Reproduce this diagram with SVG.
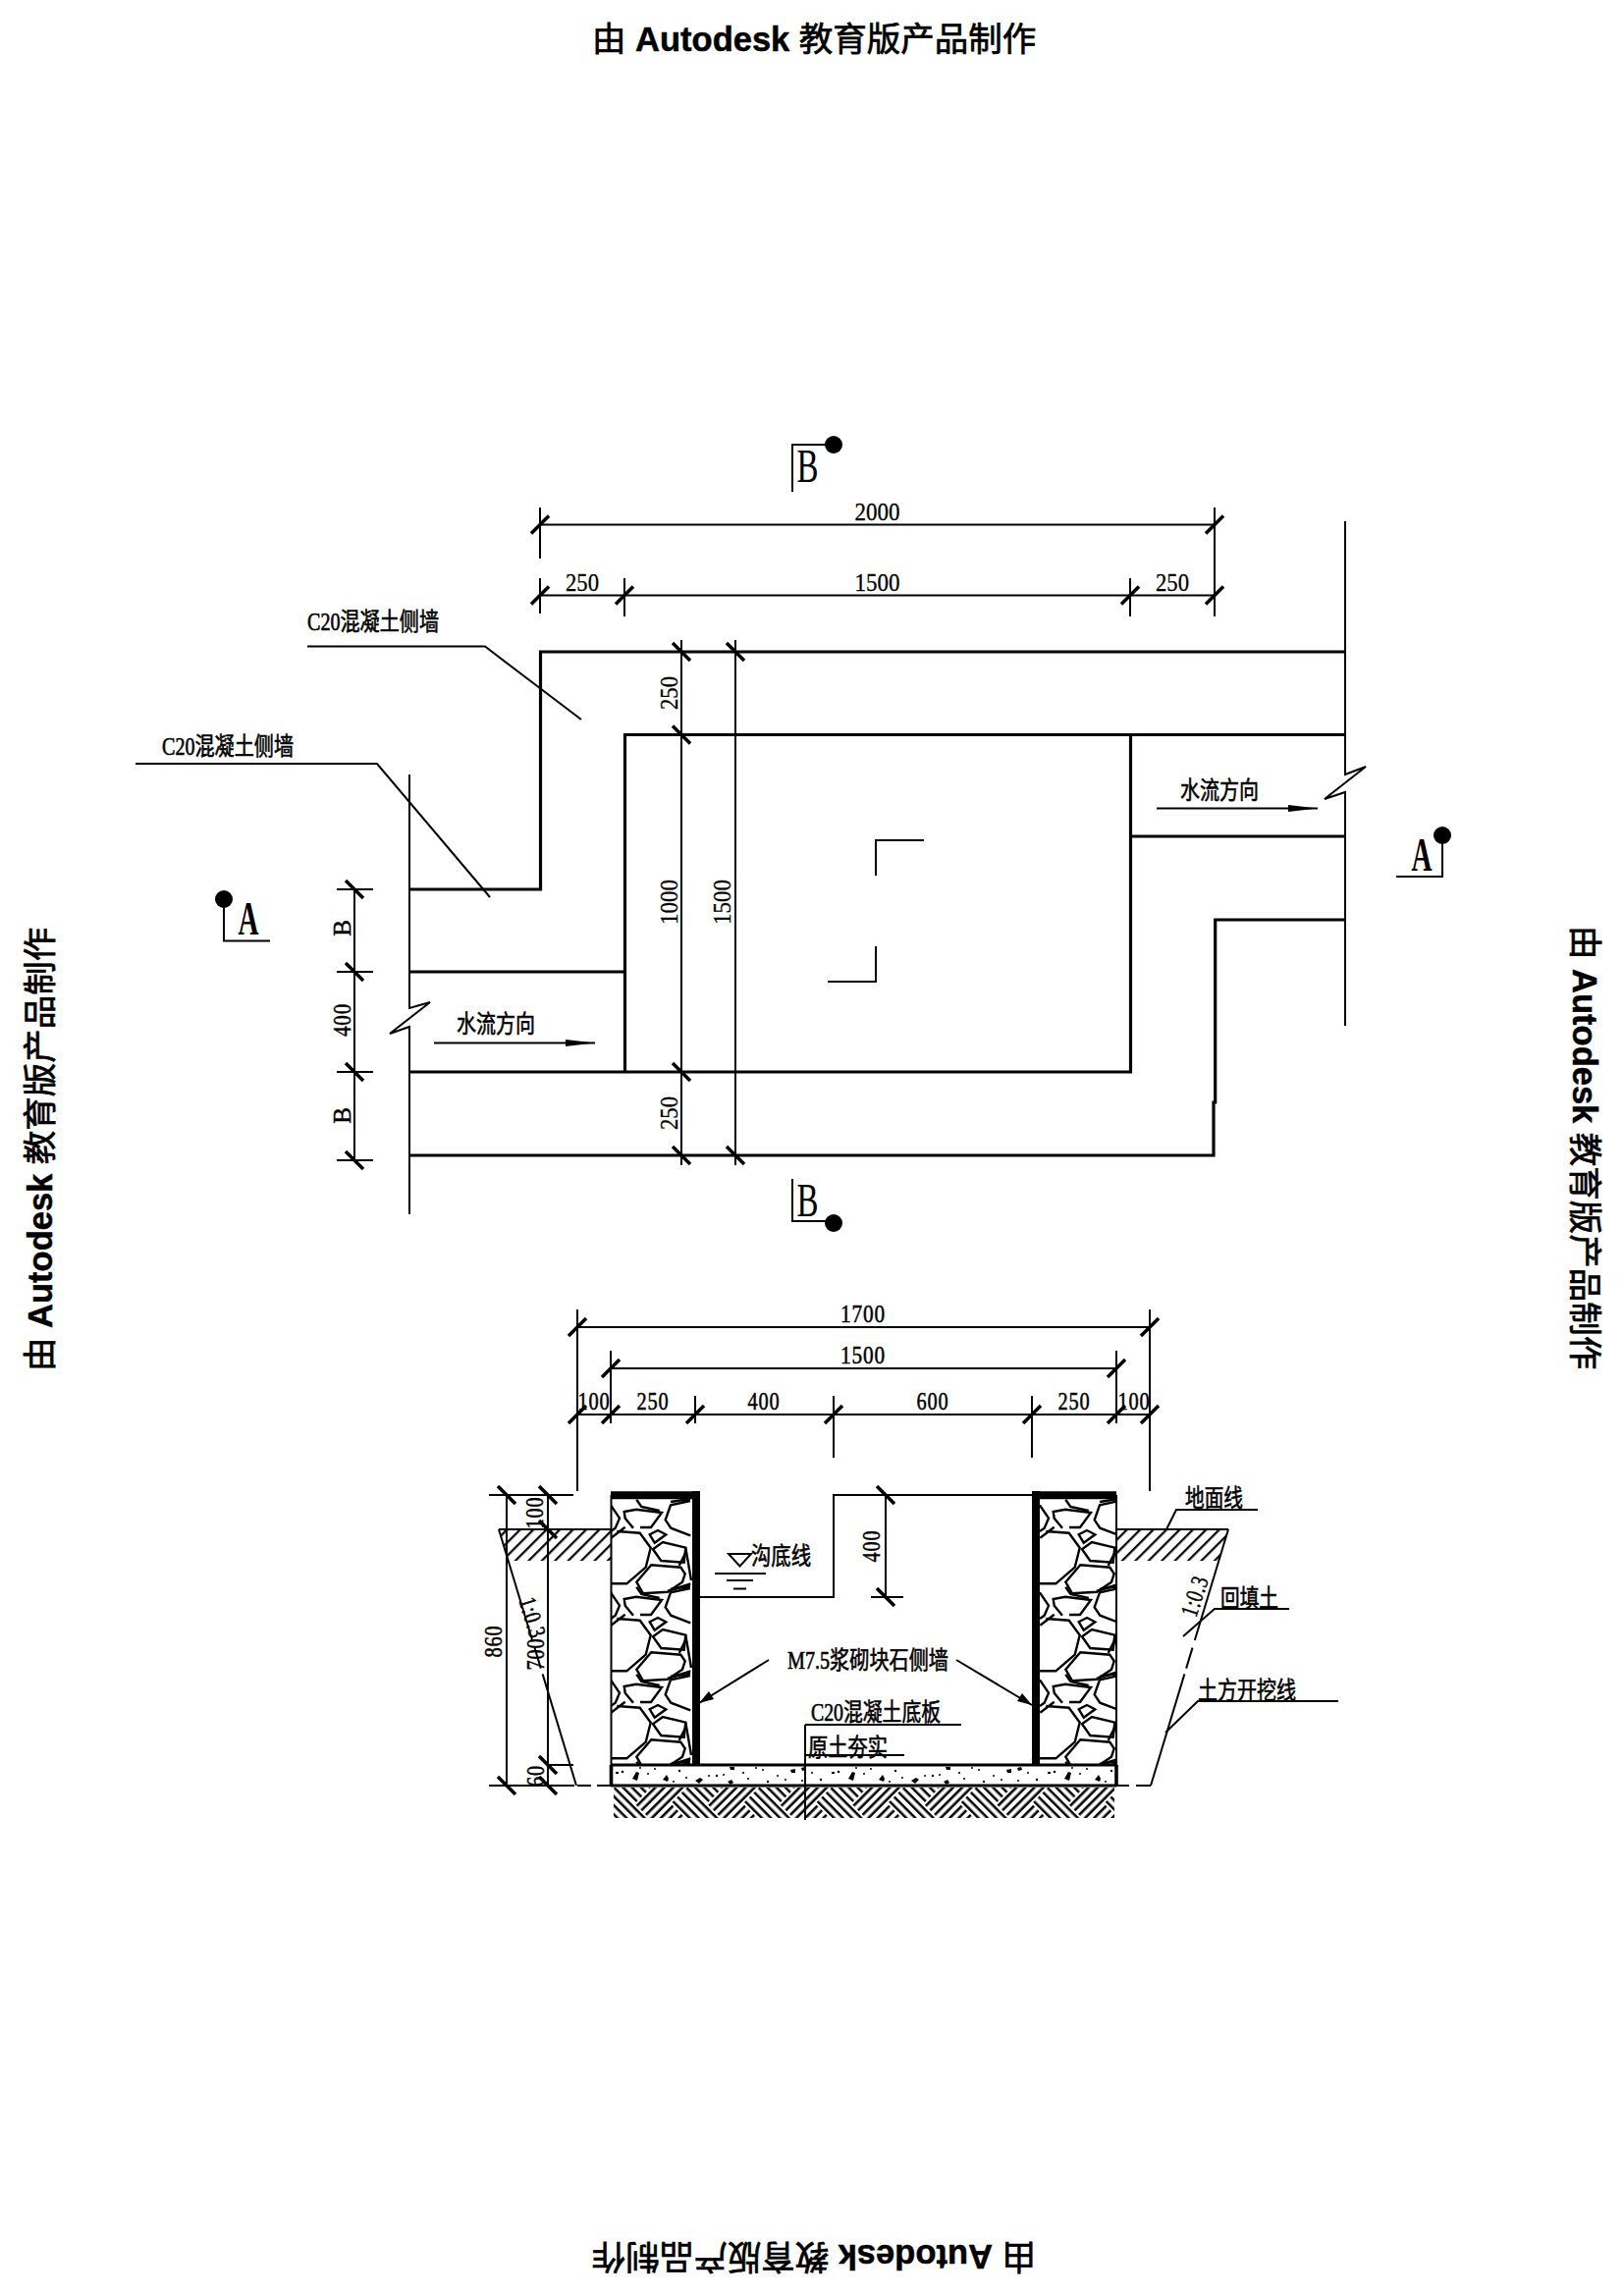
<svg xmlns="http://www.w3.org/2000/svg" width="1654" height="2339" viewBox="0 0 1654 2339">
<style>
.l{fill:none;stroke:#000;stroke-width:2}
.t{fill:none;stroke:#000;stroke-width:3.2}
.h{fill:none;stroke:#000;stroke-width:8}
.k{fill:none;stroke:#000;stroke-width:3.6}
.d{fill:none;stroke:#000;stroke-width:2;stroke-dasharray:118 8 22 6 130 8}
.f{fill:#000;stroke:none}
.n{fill:#000;stroke:#000;stroke-width:.3;font-family:"Liberation Serif","Noto Sans CJK SC",serif;font-size:25px}
.nb{fill:#000;stroke:#000;stroke-width:.5;font-family:"Liberation Serif","Noto Sans CJK SC",serif;font-size:25px;letter-spacing:1px}
.c{fill:#000;stroke:#000;stroke-width:.6;font-family:"Liberation Serif","Noto Sans CJK SC",serif;font-size:25px}
.s{fill:#000;font-family:"Liberation Serif",serif;font-size:48px}
.w{fill:#000;stroke:#000;stroke-width:.5;font-family:"Liberation Sans","Noto Sans CJK SC",sans-serif;font-size:34.500px;font-weight:bold}
.w tspan.z{font-family:"Noto Sans CJK SC",sans-serif;font-weight:normal;stroke:#000;stroke-width:.7}
</style>
<defs>
<line id="tu" x1="-9" y1="9" x2="9" y2="-9" class="k"/>
<line id="td" x1="-9" y1="-9" x2="9" y2="9" class="k"/>
<pattern id="soil" patternUnits="userSpaceOnUse" width="9.500" height="9.500" patternTransform="rotate(45)">
<line x1="4" y1="0" x2="4" y2="9.500" stroke="#000" stroke-width="2.200"/>
</pattern>
<pattern id="weave" patternUnits="userSpaceOnUse" width="104" height="104" patternTransform="translate(628,1819) rotate(45)">
<path fill="none" stroke="#000" stroke-width="2.600" d="M0 3.250H52M0 9.750H52M0 16.250H52M0 22.750H52M26 29.250H78M26 35.750H78M26 42.250H78M26 48.750H78M52 55.250H104M52 61.750H104M52 68.250H104M52 74.750H104M78 81.250H104M78 87.750H104M78 94.250H104M78 100.750H104M0 81.250H26M0 87.750H26M0 94.250H26M0 100.750H26M55.250 0V26M61.750 0V26M68.250 0V26M74.750 0V26M55.250 78V104M61.750 78V104M68.250 78V104M74.750 78V104M81.250 0V52M87.750 0V52M94.250 0V52M100.750 0V52M3.250 26V78M9.750 26V78M16.250 26V78M22.750 26V78M29.250 52V104M35.750 52V104M42.250 52V104M48.750 52V104"/>
</pattern>
<pattern id="conc" patternUnits="userSpaceOnUse" width="220" height="21" patternTransform="translate(622,1798)">
<path class="f" d="M22 14l4-7 3 1-2 8zM53 15l4-5 2 4-1 3zM86 16l5-3 3 2-4 4zM119 17l4-2 2 3-3 2zM121 2h5v3h-4zM183 5l5-1v4h-4zM194 3l4-1 1 3-4 1zM5 7h3v2h-3z"/>
<circle class="f" cx="12" cy="7" r="1.300"/><circle class="f" cx="38" cy="9" r="1"/><circle class="f" cx="45" cy="4" r="1"/><circle class="f" cx="70" cy="6" r="1.200"/><circle class="f" cx="77" cy="13" r="1"/><circle class="f" cx="100" cy="11" r="1"/><circle class="f" cx="108" cy="11" r="1.200"/><circle class="f" cx="115" cy="10" r="1"/><circle class="f" cx="135" cy="8" r="1.100"/><circle class="f" cx="140" cy="14" r="1"/><circle class="f" cx="155" cy="5" r="1"/><circle class="f" cx="160" cy="17" r="1.200"/><circle class="f" cx="170" cy="11" r="1"/><circle class="f" cx="178" cy="15" r="1"/><circle class="f" cx="205" cy="8" r="1"/><circle class="f" cx="214" cy="15" r="1.200"/><circle class="f" cx="30" cy="3" r="1"/><circle class="f" cx="64" cy="17" r="1"/><circle class="f" cx="148" cy="3" r="1"/><circle class="f" cx="195" cy="16" r="1"/>
</pattern>
<g id="stone" fill="none" stroke="#000" stroke-width="2.400">
<path d="M23 29.700L14.700 19.700L13.700 13L26 10.700L52 14L41 29L30 29"/>
<path d="M26.300 .7L31.300 8L49.700 12"/>
<path d="M81 2L61 6.300L55.700 21.300L61.300 29.700L81.300 37.300M61 3L81 -.3"/>
<path d="M0 6.300L9 19.700L4.700 29.700L0 33M.3 39.700L14.700 28.700"/>
<path d="M6.300 33L29.700 34.700L40.700 49.700L35.700 69.700L16.300 86.300L0 86.300"/>
<path d="M39.700 36.300L48 32L56.300 36.300L44.700 44.700Z"/>
<path d="M43 51.300L53 44L76.300 49.700L74.700 64.700L51.300 63Z"/>
<path d="M26.300 84.700L41.300 67.300L71.300 69.700L75.700 76.300L73 84.700L58 94.700L33 96.300Z"/>
<path d="M76.300 49.700L82 83M58 94L81.300 86.300M69.700 68L76.300 54.700"/>
</g>
<clipPath id="wl"><rect x="622" y="1527" width="85" height="271"/></clipPath>
<clipPath id="wr"><rect x="1059" y="1527" width="78" height="271"/></clipPath>
</defs>
<rect width="1654" height="2339" fill="#fff"/>

<g id="watermarks">
<text class="w" x="603" y="52"><tspan class="z">由</tspan> Autodesk <tspan class="z">教育版产品制作</tspan></text>
<text class="w" transform="translate(53,1397) rotate(-90)"><tspan class="z">由</tspan> Autodesk <tspan class="z">教育版产品制作</tspan></text>
<text class="w" transform="translate(1602,943) rotate(90)"><tspan class="z">由</tspan> Autodesk <tspan class="z">教育版产品制作</tspan></text>
<text class="w" transform="translate(1055,2287) rotate(180)"><tspan class="z">由</tspan> Autodesk <tspan class="z">教育版产品制作</tspan></text>
</g>

<g id="plan-walls">
<path class="t" d="M1370 664H550.500V906H417"/>
<path class="t" d="M1370 748.500H636.500V1092"/>
<path class="t" d="M417 1092H1151.500V748.500"/>
<path class="t" d="M417 990H636.500"/>
<path class="t" d="M1151.500 852H1370"/>
<path class="t" d="M1370 937H1237.700V1123H1236V1177H417"/>
<path class="l" stroke-width="2.400" d="M417 789V1027L438 1021L397 1053L417 1046V1237"/>
<path class="l" stroke-width="2.400" d="M1370 531V789L1391 781L1349 814L1370 807V1045"/>
<path class="l" d="M892 892V856H941M843 1000H892V964"/>
</g>

<g id="plan-dimensions">
<path class="l" d="M550 517V569M1237 517V628M550 589V625M636 589V628M1151 589V628M550 534.500H1237M550 606.500H1237"/>
<use href="#tu" x="550" y="534.500"/><use href="#tu" x="1237" y="534.500"/>
<use href="#tu" x="550" y="606.500"/><use href="#tu" x="636" y="606.500"/><use href="#tu" x="1151" y="606.500"/><use href="#tu" x="1237" y="606.500"/>
<text class="n" x="893.500" y="530" text-anchor="middle" textLength="46" lengthAdjust="spacingAndGlyphs">2000</text>
<text class="n" x="893.500" y="602" text-anchor="middle" textLength="46" lengthAdjust="spacingAndGlyphs">1500</text>
<text class="n" x="593" y="602" text-anchor="middle" textLength="34" lengthAdjust="spacingAndGlyphs">250</text>
<text class="n" x="1194" y="602" text-anchor="middle" textLength="34" lengthAdjust="spacingAndGlyphs">250</text>
<path class="l" d="M694 652V1187M749 652V1187"/>
<use href="#td" x="694" y="664"/><use href="#td" x="749" y="664"/><use href="#td" x="694" y="748.500"/><use href="#td" x="694" y="1092"/><use href="#td" x="694" y="1177"/><use href="#td" x="749" y="1177"/>
<text class="n" transform="translate(682,706) rotate(-90)" y="8" text-anchor="middle" textLength="34" lengthAdjust="spacingAndGlyphs">250</text>
<text class="n" transform="translate(682,919) rotate(-90)" y="8" text-anchor="middle" textLength="46" lengthAdjust="spacingAndGlyphs">1000</text>
<text class="n" transform="translate(736,919) rotate(-90)" y="8" text-anchor="middle" textLength="46" lengthAdjust="spacingAndGlyphs">1500</text>
<text class="n" transform="translate(682,1134) rotate(-90)" y="8" text-anchor="middle" textLength="34" lengthAdjust="spacingAndGlyphs">250</text>
<path class="l" d="M361 906V1182M343 906H380M343 990H380M343 1092H380M343 1182H380"/>
<use href="#td" x="361" y="906"/><use href="#td" x="361" y="990"/><use href="#td" x="361" y="1092"/><use href="#td" x="361" y="1182"/>
<text class="nb" transform="translate(349,945) rotate(-90)" y="8" text-anchor="middle">B</text>
<text class="nb" transform="translate(349,1039) rotate(-90)" y="8" text-anchor="middle" textLength="34" lengthAdjust="spacingAndGlyphs">400</text>
<text class="nb" transform="translate(349,1136) rotate(-90)" y="8" text-anchor="middle">B</text>
</g>

<g id="plan-labels">
<text class="c" x="313" y="642" textLength="134" lengthAdjust="spacingAndGlyphs">C20混凝土侧墙</text>
<path class="l" d="M313 658.500H494L592 733"/>
<text class="c" x="165" y="769" textLength="134" lengthAdjust="spacingAndGlyphs">C20混凝土侧墙</text>
<path class="l" d="M138 778H384L499 914"/>
<text class="c" x="465" y="1052" textLength="80" lengthAdjust="spacingAndGlyphs">水流方向</text>
<path class="l" d="M442 1062.500H606"/><path class="f" d="M576 1059L606 1062.500L576 1066Z"/>
<text class="c" x="1202" y="814" textLength="80" lengthAdjust="spacingAndGlyphs">水流方向</text>
<path class="l" d="M1178 823.500H1342"/><path class="f" d="M1312 820L1342 823.500L1312 827Z"/>
</g>

<g id="section-mark-a-left"><circle class="f" cx="228" cy="916" r="9"/><path class="l" d="M228 916V958.500H275"/><text class="s" x="253" y="952" font-weight="bold" text-anchor="middle" textLength="21" lengthAdjust="spacingAndGlyphs">A</text></g>
<g id="section-mark-a-right"><circle class="f" cx="1469" cy="851" r="9"/><path class="l" d="M1469 851V893H1422"/><text class="s" x="1448" y="887" font-weight="bold" text-anchor="middle" textLength="21" lengthAdjust="spacingAndGlyphs">A</text></g>
<g id="section-mark-b-top"><circle class="f" cx="849" cy="453" r="9"/><path class="l" d="M849 453H807V501"/><text class="s" x="822.500" y="491" text-anchor="middle" textLength="22" lengthAdjust="spacingAndGlyphs">B</text></g>
<g id="section-mark-b-bottom"><circle class="f" cx="849" cy="1246" r="9"/><path class="l" d="M849 1244H807V1201"/><text class="s" x="822.500" y="1239" text-anchor="middle" textLength="22" lengthAdjust="spacingAndGlyphs">B</text></g>

<g id="section-structure">
<rect x="625" y="1821" width="510" height="31" fill="url(#weave)"/>
<rect x="622" y="1798" width="515" height="21" fill="url(#conc)"/>
<g clip-path="url(#wl)"><use href="#stone" x="622" y="1527"/><use href="#stone" x="622" y="1616"/><use href="#stone" x="622" y="1705"/><use href="#stone" x="622" y="1794"/></g>
<g clip-path="url(#wr)"><use href="#stone" x="1059" y="1527"/><use href="#stone" x="1059" y="1616"/><use href="#stone" x="1059" y="1705"/><use href="#stone" x="1059" y="1794"/></g>
<path class="l" stroke-width="2.600" d="M622.500 1523V1798M1137 1523V1798"/>
<path class="h" d="M622 1523.300H713M709 1519V1798M1055 1798V1519M1051 1523.300H1137"/>
<path class="k" stroke-width="5" d="M622.500 1798V1819M1137 1798V1819"/>
<path class="t" d="M622 1798H1137M622 1819H1137"/>
<path class="l" d="M820 1854V1757"/>
<path d="M508 1558H622V1590H518ZM1137 1558H1251L1241 1590H1137Z" fill="url(#soil)"/>
<path class="l" d="M508 1558H622M1137 1558H1251"/>
<path class="l" d="M712 1627H849V1523H1051"/>
<path class="d" d="M508 1558L587 1819"/>
<path class="d" d="M1251 1558L1172 1819"/>
<path class="l" d="M498 1819H585M588 1819H602M608 1819H622M1137 1819H1150M1157 1819H1172"/>
</g>

<g id="section-dimensions">
<path class="l" d="M588 1334V1519M1171 1334V1519M622 1376V1450M1137 1376V1450M708 1422V1450M849 1422V1485M1051 1422V1485M588 1352H1171M622 1394H1137M588 1441H1171"/>
<use href="#tu" x="588" y="1352"/><use href="#tu" x="1171" y="1352"/><use href="#tu" x="622" y="1394"/><use href="#tu" x="1137" y="1394"/>
<use href="#tu" x="588" y="1441"/><use href="#tu" x="622" y="1441"/><use href="#tu" x="708" y="1441"/><use href="#tu" x="849" y="1441"/><use href="#tu" x="1051" y="1441"/><use href="#tu" x="1137" y="1441"/><use href="#tu" x="1171" y="1441"/>
<text class="nb" x="879" y="1347" text-anchor="middle" textLength="46" lengthAdjust="spacingAndGlyphs">1700</text>
<text class="nb" x="879" y="1389" text-anchor="middle" textLength="46" lengthAdjust="spacingAndGlyphs">1500</text>
<text class="nb" x="605" y="1435.500" text-anchor="middle" textLength="33" lengthAdjust="spacingAndGlyphs">100</text>
<text class="nb" x="665" y="1435.500" text-anchor="middle" textLength="33" lengthAdjust="spacingAndGlyphs">250</text>
<text class="nb" x="778" y="1435.500" text-anchor="middle" textLength="33" lengthAdjust="spacingAndGlyphs">400</text>
<text class="nb" x="950" y="1435.500" text-anchor="middle" textLength="33" lengthAdjust="spacingAndGlyphs">600</text>
<text class="nb" x="1094" y="1435.500" text-anchor="middle" textLength="33" lengthAdjust="spacingAndGlyphs">250</text>
<text class="nb" x="1155" y="1435.500" text-anchor="middle" textLength="33" lengthAdjust="spacingAndGlyphs">100</text>
<path class="l" d="M498 1523H584M516 1523V1819M558 1523V1819M558 1798H584"/>
<use href="#td" x="516" y="1523"/><use href="#td" x="558" y="1523"/><use href="#td" x="558" y="1558"/><use href="#td" x="558" y="1798"/><use href="#td" x="516" y="1819"/><use href="#td" x="558" y="1819"/>
<text class="nb" transform="translate(503,1672) rotate(-90)" y="8" text-anchor="middle" textLength="33" lengthAdjust="spacingAndGlyphs">860</text>
<text class="nb" transform="translate(545,1541) rotate(-90)" y="8" text-anchor="middle" textLength="33" lengthAdjust="spacingAndGlyphs">100</text>
<text class="nb" transform="translate(546,1685) rotate(-90)" y="8" text-anchor="middle" textLength="33" lengthAdjust="spacingAndGlyphs">700</text>
<text class="nb" transform="translate(546,1809) rotate(-90)" y="8" text-anchor="middle" textLength="22" lengthAdjust="spacingAndGlyphs">60</text>
<path class="l" d="M902 1523V1627M887 1627H920"/>
<use href="#td" x="902" y="1523"/><use href="#td" x="902" y="1627"/>
<text class="nb" transform="translate(888,1575) rotate(-90)" y="8" text-anchor="middle" textLength="33" lengthAdjust="spacingAndGlyphs">400</text>
<text class="nb" transform="translate(542,1648) rotate(73)" y="8" text-anchor="middle" textLength="42" lengthAdjust="spacingAndGlyphs">1:0.3</text>
<text class="nb" transform="translate(1217,1626) rotate(-72)" y="8" text-anchor="middle" textLength="42" lengthAdjust="spacingAndGlyphs">1:0.3</text>
</g>

<g id="section-labels">
<text class="c" x="765" y="1594" textLength="61" lengthAdjust="spacingAndGlyphs">沟底线</text>
<path class="l" d="M742 1583H765L753.500 1595.500ZM728 1603H780M740 1610H767M747 1618.500H760"/>
<text class="c" x="802" y="1700" textLength="164" lengthAdjust="spacingAndGlyphs">M7.5浆砌块石侧墙</text>
<path class="l" d="M783 1691L712 1735M974 1691L1051 1737"/>
<path class="f" d="M712 1735L722 1723L727 1731ZM1051 1737L1036 1733L1041 1725Z"/>
<text class="c" x="826" y="1753" textLength="132" lengthAdjust="spacingAndGlyphs">C20混凝土底板</text>
<path class="l" d="M820 1757H979"/>
<text class="c" x="823" y="1789" textLength="81" lengthAdjust="spacingAndGlyphs">原土夯实</text>
<path class="l" d="M820 1788H921"/>
<text class="c" x="1207" y="1535" textLength="59" lengthAdjust="spacingAndGlyphs">地面线</text>
<path class="l" d="M1188 1558L1198 1538H1281"/>
<text class="c" x="1243" y="1637" textLength="59" lengthAdjust="spacingAndGlyphs">回填土</text>
<path class="l" d="M1205 1667L1237 1639H1313"/>
<text class="c" x="1220" y="1731" textLength="100" lengthAdjust="spacingAndGlyphs">土方开挖线</text>
<path class="l" d="M1187 1765L1220 1733H1363"/>
</g>
</svg>
